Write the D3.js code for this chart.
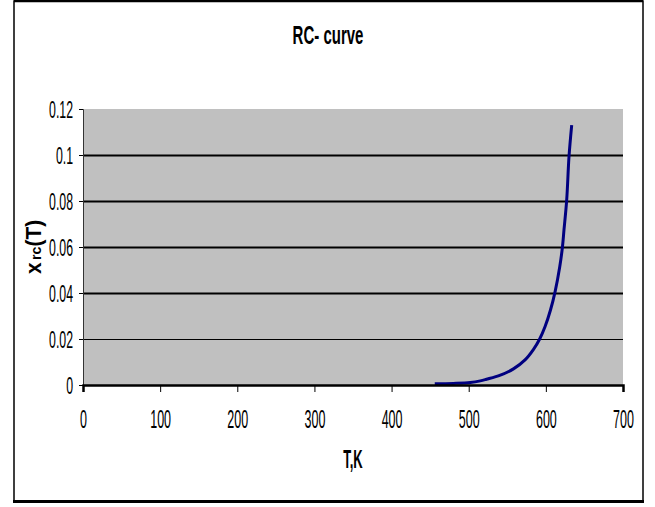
<!DOCTYPE html>
<html>
  <head>
    <meta http-equiv="Content-Type" content="text/html;charset=utf-8">
    <title>RC- curve</title>
    <script type="text/javascript" src="https://d3js.org/d3.v7.min.js"></script>
    <style>
	    html, body {
		    margin: 0;
		    padding: 0;
		    background: #fff;
	    }
	    text {
		    font-family: "Liberation Sans", Arial, sans-serif;
		    fill: #000;
	    }
	    path.line {
		    fill: none;
		    stroke: #000080;
		    stroke-width: 3px;
		    stroke-linejoin: round;
	    }
    </style>
  </head>
  <body>
	<script type="text/javascript">

// T, K
var tempK = [456, 480, 502, 515, 523, 541, 558, 573, 584, 592, 599, 606, 612, 618, 621.5, 623.5, 627, 630, 633.5];
// x_rc(T)
var xrc = [0.0005, 0.0007, 0.0011, 0.0018, 0.0025, 0.0043, 0.0070, 0.0109, 0.0155, 0.0200, 0.0254, 0.0326, 0.0406, 0.0514, 0.0600, 0.0674, 0.0804, 0.0993, 0.113];

var xTicks = [0, 100, 200, 300, 400, 500, 600, 700];
var yTicks = [0, 0.02, 0.04, 0.06, 0.08, 0.1, 0.12];
var yTickLabels = ["0", "0.02", "0.04", "0.06", "0.08", "0.1", "0.12"];

var W = 655, H = 507;
var plot = {left: 83, right: 623, top: 109, bottom: 385};

var x = d3.scaleLinear().domain([0, 700]).range([plot.left, plot.right]);
var y = d3.scaleLinear().domain([0, 0.12]).range([plot.bottom, plot.top]);

var svg = d3.select("body").append("svg").attr("width", W).attr("height", H);

// outer frame
svg.append("rect").attr("x", 14).attr("y", 1).attr("width", 629).attr("height", 500)
	.attr("fill", "#fff").attr("stroke", "#000").attr("stroke-width", 1.5);
svg.append("line").attr("x1", 14).attr("x2", 643).attr("y1", 1).attr("y2", 1)
	.attr("stroke", "#000").attr("stroke-width", 2.5);
svg.append("line").attr("x1", 13).attr("x2", 644).attr("y1", 501.5).attr("y2", 501.5)
	.attr("stroke", "#000").attr("stroke-width", 3);

// plot area
svg.append("rect").attr("x", plot.left).attr("y", plot.top)
	.attr("width", plot.right - plot.left).attr("height", plot.bottom - plot.top)
	.attr("fill", "#c0c0c0");

// gridlines
svg.append("g").selectAll("line").data(yTicks.filter(function(d){ return d > 0 && d < 0.12; }))
	.enter().append("line")
	.attr("x1", plot.left).attr("x2", plot.right)
	.attr("y1", function(d){ return Math.round(y(d)) + 0.5; })
	.attr("y2", function(d){ return Math.round(y(d)) + 0.5; })
	.attr("stroke", "#000")
	.attr("stroke-width", function(d){ return d === 0.02 ? 1 : 2; });

// curve
var line = d3.line()
	.x(function(d, i){ return x(tempK[i]); })
	.y(function(d){ return y(d); })
	.curve(d3.curveCatmullRom);

svg.append("path").attr("class", "line").attr("d", line(xrc));

// y axis
var yAxis = d3.axisLeft(y).tickValues(yTicks).tickSize(4).tickPadding(0)
	.tickFormat(function(d, i){ return yTickLabels[i]; });
var gy = svg.append("g").attr("transform", "translate(" + plot.left + ",0)").call(yAxis);
gy.select(".domain").attr("stroke", "#333").attr("stroke-width", 1);
gy.selectAll(".tick line").attr("stroke", "#000");
gy.selectAll(".tick text")
	.attr("x", 0).attr("y", 0).attr("dy", null)
	.attr("font-size", 12.3).attr("font-family", null)
	.attr("text-anchor", "end")
	.attr("transform", "translate(-10,8.5) scale(1,1.95)");

// x axis
var xAxis = d3.axisBottom(x).tickValues(xTicks).tickSize(7).tickPadding(0);
var gx = svg.append("g").attr("transform", "translate(0," + plot.bottom + ")").call(xAxis);
gx.select(".domain").attr("stroke", "#000").attr("stroke-width", 2.5);
gx.selectAll(".tick line").attr("stroke", "#000");
gx.selectAll(".tick text")
	.attr("x", 0).attr("y", 0).attr("dy", null)
	.attr("font-size", 12.5).attr("font-family", null)
	.attr("text-anchor", "middle")
	.attr("transform", "translate(0,43) scale(1,2)");

// titles
svg.append("text").attr("text-anchor", "middle")
	.attr("font-size", 15).attr("font-weight", "bold")
	.attr("transform", "translate(328,44) scale(1,1.67)")
	.text("RC- curve");

svg.append("text").attr("text-anchor", "middle")
	.attr("font-size", 13).attr("font-weight", "bold")
	.attr("transform", "translate(353,468) scale(1,1.93)")
	.text("T,K");

var yl = svg.append("text").attr("text-anchor", "middle")
	.attr("font-size", 16).attr("font-weight", "bold")
	.attr("transform", "translate(41,247) rotate(-90) scale(1.3,1.4)");
yl.append("tspan").text("x");
yl.append("tspan").attr("font-size", 11).attr("dx", 2).text("rc");
yl.append("tspan").text("(T)");

	</script>
  </body>
</html>
